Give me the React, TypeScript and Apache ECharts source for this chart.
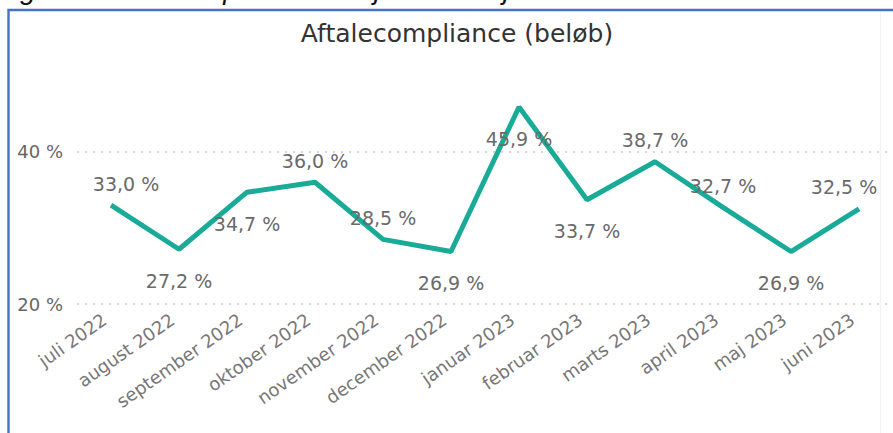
import React, { useEffect, useRef } from "react";
import * as echarts from "echarts";

const categories = [
  "juli 2022",
  "august 2022",
  "september 2022",
  "oktober 2022",
  "november 2022",
  "december 2022",
  "januar 2023",
  "februar 2023",
  "marts 2023",
  "april 2023",
  "maj 2023",
  "juni 2023",
];
const values = [33.0, 27.2, 34.7, 36.0, 28.5, 26.9, 45.9, 33.7, 38.7, 32.7, 26.9, 32.5];
const labelPlacement = ["top", "bottom", "bottom", "top", "top", "bottom", "bottom", "bottom", "top", "top", "bottom", "top"];
const yTicks = [20, 40];
const titleText = "Aftalecompliance (beløb)";
const captionText = "Figur 4: Aftalecompliance DS: juli 2022 - juni 2023";

const fmt = (v: number) => v.toFixed(1).replace(".", ",") + " %";

export default function App() {
  const ref = useRef<HTMLDivElement>(null);
  useEffect(() => {
    if (!ref.current) return;
    const chart = echarts.init(ref.current, undefined, { renderer: "svg" });
    const font = "DejaVu Sans";
    const n = values.length;
    chart.setOption({
      animation: false,
      backgroundColor: "#ffffff",
      title: {
        text: titleText,
        left: 452,
        textAlign: "center",
        top: 16,
        textStyle: { fontFamily: font, fontSize: 25, fontWeight: "normal", color: "#333333" },
      },
      graphic: [
        {
          type: "text",
          x: -3,
          y: -11,
          style: {
            text: captionText,
            font: 'italic 28px "Liberation Sans"',
            fill: "#111111",
            verticalAlign: "middle",
          },
        },
        {
          type: "rect",
          shape: { x: 8.5, y: 10, width: 900, height: 440 },
          style: { fill: "none", stroke: "#4472C4", lineWidth: 2.4 },
        },
        {
          type: "line",
          shape: { x1: 880.5, y1: 12, x2: 880.5, y2: 433 },
          style: { stroke: "#f2f2f2", lineWidth: 1 },
        },
      ],
      grid: { left: 77, right: -3, top: 91, bottom: 129, containLabel: false },
      xAxis: {
        type: "category",
        data: categories,
        boundaryGap: true,
        axisLine: { show: false },
        axisTick: { show: false },
        splitLine: { show: false },
        axisLabel: {
          rotate: 35,
          interval: 0,
          margin: 9,
          padding: [0, 8, 0, 0],
          fontFamily: font,
          fontSize: 18,
          color: "#777777",
        },
      },
      yAxis: {
        type: "value",
        min: 20,
        max: 48,
        interval: 20,
        axisLine: { show: false },
        axisTick: { show: false },
        splitLine: { show: false },
        axisLabel: {
          margin: 14,
          fontFamily: font,
          fontSize: 18,
          color: "#666666",
          showMaxLabel: false,
          formatter: (v: number) => (yTicks.indexOf(v) >= 0 ? v + " %" : ""),
        },
      },
      series: [
        {
          type: "line",
          data: values.map((v, i) => ({
            value: v,
            label: {
              position: labelPlacement[i],
              distance: labelPlacement[i] === "top" ? 12 : 22,
              offset: i === 0 ? [15, 0] : i === n - 1 ? [-15, 0] : [0, 0],
            },
          })),
          symbol: "circle",
          symbolSize: 0.1,
          showSymbol: true,
          itemStyle: { color: "#1AAB98" },
          lineStyle: { color: "#1AAB98", width: 5 },
          label: {
            show: true,
            fontFamily: font,
            fontSize: 19,
            color: "#6a6a6a",
            formatter: (p: any) => fmt(p.value),
          },
          markLine: {
            silent: true,
            symbol: "none",
            z: 1,
            label: { show: false },
            lineStyle: { type: [2, 6], color: "#c8c8c8", width: 1.5 },
            data: yTicks.map((t) => ({ yAxis: t })),
          },
          z: 3,
        },
      ],
    });
    return () => chart.dispose();
  }, []);
  return (
    <div
      ref={ref}
      style={{ position: "fixed", left: 0, top: 0, width: 893, height: 433 }}
    />
  );
}
